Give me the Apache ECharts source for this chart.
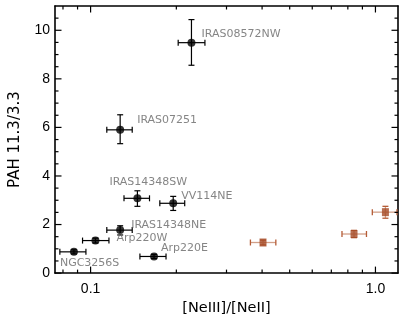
<!DOCTYPE html>
<html><head><meta charset="utf-8">
<script src="https://cdn.jsdelivr.net/npm/echarts@6/dist/echarts.min.js"></script>
<style>html,body{margin:0;padding:0;background:#fff;}#c{width:399px;height:321px;}</style>
</head><body><div id="c"></div>
<script>
// ---- data ----
const names   = ['IRAS08572NW','IRAS07251','IRAS14348SW','VV114NE','IRAS14348NE','Arp220W','NGC3256S','Arp220E'];
const neRatio = [0.226, 0.127, 0.146, 0.195, 0.127, 0.104, 0.0874, 0.167];
const pahRatio= [9.49, 5.90, 3.08, 2.875, 1.77, 1.34, 0.875, 0.685];
const neLo    = [0.203, 0.114, 0.131, 0.175, 0.114, 0.0937, 0.078, 0.149];
const neHi    = [0.252, 0.140, 0.161, 0.214, 0.140, 0.116, 0.0963, 0.184];
const pahLo   = [8.56, 5.33, 2.75, 2.58, 1.57, 1.24, 0.79, 0.60];
const pahHi   = [10.44, 6.52, 3.39, 3.16, 1.95, 1.44, 0.96, 0.77];

const oNe     = [0.403, 0.841, 1.084];
const oPah    = [1.26, 1.61, 2.51];
const oNeLo   = [0.364, 0.763, 0.975];
const oNeHi   = [0.447, 0.930, 1.19];
const oPahLo  = [1.16, 1.46, 2.26];
const oPahHi  = [1.36, 1.76, 2.75];

const xMajorLabels = {0.1: '0.1', 1: '1.0'};
const xMajorTicks = [0.1, 1];
const xMinorTicks = [0.08, 0.09, 0.2, 0.3, 0.4, 0.5, 0.6, 0.7, 0.8, 0.9];
const yMajorTicks = [0, 2, 4, 6, 8, 10];
const yMinorTicks = [0.5,1,1.5,2.5,3,3.5,4.5,5,5.5,6.5,7,7.5,8.5,9,9.5,10.5];
const X_MIN = 0.075, X_MAX = 1.2, Y_MIN = 0, Y_MAX = 11, Y_STEP = 2;

// ---- styling (label placement in px) ----
const labelOffset = {
  IRAS08572NW:[10,-9], IRAS07251:[17,-10], IRAS14348SW:[-28,-16], VV114NE:[8,-7],
  IRAS14348NE:[11,-5], Arp220W:[21,-2], NGC3256S:[-14,11], Arp220E:[7,-8]
};

const chart = echarts.init(document.getElementById('c'), null, {renderer:'canvas'});

function errRender(lineColor, capColor, lw) {
  return function (params, api) {
    const x = api.value(0), y = api.value(1);
    const L = api.coord([api.value(2), y]), R = api.coord([api.value(3), y]);
    const B = api.coord([x, api.value(4)]), T = api.coord([x, api.value(5)]);
    const c = 3;
    const st = {stroke: lineColor, lineWidth: lw};
    const cs = {stroke: capColor, lineWidth: lw};
    return {type:'group', children:[
      {type:'line', shape:{x1:L[0],y1:L[1],x2:R[0],y2:R[1]}, style:st},
      {type:'line', shape:{x1:B[0],y1:B[1],x2:T[0],y2:T[1]}, style:st},
      {type:'line', shape:{x1:L[0],y1:L[1]-c,x2:L[0],y2:L[1]+c}, style:cs},
      {type:'line', shape:{x1:R[0],y1:R[1]-c,x2:R[0],y2:R[1]+c}, style:cs},
      {type:'line', shape:{x1:B[0]-c,y1:B[1],x2:B[0]+c,y2:B[1]}, style:cs},
      {type:'line', shape:{x1:T[0]-c,y1:T[1],x2:T[0]+c,y2:T[1]}, style:cs}
    ]};
  };
}

function xTickSeries(vals, len) {
  return {type:'custom', silent:true, clip:false, z:5, data:vals.map(v=>[v, Y_MIN]),
    encode:{x:0,y:1},
    renderItem:function(params, api){
      const b = api.coord([api.value(0), Y_MIN]), t = api.coord([api.value(0), Y_MAX]);
      const st = {stroke:'#000', lineWidth:1.2};
      return {type:'group', children:[
        {type:'line', shape:{x1:b[0],y1:b[1],x2:b[0],y2:b[1]-len}, style:st},
        {type:'line', shape:{x1:t[0],y1:t[1],x2:t[0],y2:t[1]+len}, style:st}]};
    }};
}
function yTickSeries(vals, len) {
  return {type:'custom', silent:true, clip:false, z:5, data:vals.map(v=>[0.1, v]),
    encode:{x:0,y:1},
    renderItem:function(params, api){
      const l = api.coord([X_MIN, api.value(1)]), r = api.coord([X_MAX, api.value(1)]);
      const st = {stroke:'#000', lineWidth:1.2};
      return {type:'group', children:[
        {type:'line', shape:{x1:l[0],y1:l[1],x2:l[0]+len,y2:l[1]}, style:st},
        {type:'line', shape:{x1:r[0],y1:r[1],x2:r[0]-len,y2:r[1]}, style:st}]};
    }};
}

const blackErr = names.map((n,i)=>[neRatio[i], pahRatio[i], neLo[i], neHi[i], pahLo[i], pahHi[i]]);
const orangeErr = oNe.map((v,i)=>[v, oPah[i], oNeLo[i], oNeHi[i], oPahLo[i], oPahHi[i]]);

const axisLine = {show:true, onZero:false, lineStyle:{color:'#000', width:1.6}};
const tickFont = {color:'#000', fontSize:14, fontFamily:'Liberation Sans'};

const option = {
  animation:false,
  backgroundColor:'#fff',
  grid:{left:55, right:1, top:6, bottom:42, containLabel:false},
  xAxis:[
    {type:'log', logBase:10, min:X_MIN, max:X_MAX, position:'bottom',
     axisLine, axisTick:{show:false}, splitLine:{show:false},
     axisLabel:Object.assign({margin:9, showMinLabel:false, showMaxLabel:false,
        formatter:v=>{for (const k in xMajorLabels){ if (Math.abs(v-Number(k))<1e-6) return xMajorLabels[k]; } return '';}}, tickFont),
     name:'[NeIII]/[NeII]', nameLocation:'middle', nameGap:25,
     nameTextStyle:{color:'#000', fontSize:14.5, fontFamily:'DejaVu Sans'}},
    {type:'log', logBase:10, min:X_MIN, max:X_MAX, position:'top',
     axisLine, axisTick:{show:false}, axisLabel:{show:false}, splitLine:{show:false}}
  ],
  yAxis:[
    {type:'value', min:Y_MIN, max:Y_MAX, interval:Y_STEP, position:'left',
     axisLine, axisTick:{show:false}, splitLine:{show:false},
     axisLabel:Object.assign({margin:5, showMaxLabel:false}, tickFont),
     name:'PAH 11.3/3.3', nameLocation:'middle', nameGap:32, nameRotate:90,
     nameTextStyle:{color:'#000', fontSize:15, fontFamily:'DejaVu Sans'}},
    {type:'value', min:Y_MIN, max:Y_MAX, interval:Y_STEP, position:'right',
     axisLine, axisTick:{show:false}, axisLabel:{show:false}, splitLine:{show:false}}
  ],
  series:[
    xTickSeries(xMinorTicks, 3.5),
    xTickSeries(xMajorTicks, 6.5),
    yTickSeries(yMinorTicks, 3.5),
    yTickSeries(yMajorTicks, 6.5),
    {type:'custom', silent:true, data:blackErr, encode:{x:0,y:1},
     renderItem:errRender('#000','#000',1.2)},
    {type:'custom', silent:true, data:orangeErr, encode:{x:0,y:1},
     renderItem:errRender('#d19f88','#b55c36',1.3)},
    {type:'scatter', silent:true, symbol:'circle', symbolSize:8,
     itemStyle:{color:'#000'},
     data:names.map((n,i)=>({name:n, value:[neRatio[i], pahRatio[i]],
        label:{offset:labelOffset[n]}})),
     label:{show:true, position:'inside', align:'left', verticalAlign:'middle',
        formatter:'{b}', color:'#666666', fontSize:11, fontFamily:'DejaVu Sans'}},
    {type:'scatter', silent:true, symbol:'rect', symbolSize:[7,8],
     itemStyle:{color:'#a54a25'},
     data:oNe.map((v,i)=>[v, oPah[i]])}
  ]
};
chart.setOption(option);
</script>
</body></html>
